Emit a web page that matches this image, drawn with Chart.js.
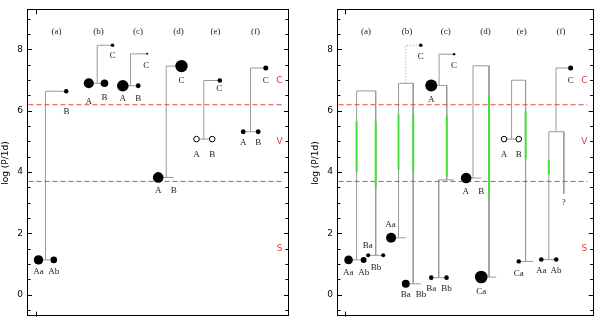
<!DOCTYPE html>
<html>
<head>
<meta charset="utf-8">
<script src="https://cdn.jsdelivr.net/npm/chart.js@4/dist/chart.umd.min.js"></script>
<style>
  body { margin: 0; background: #fff; }
  #wrap { position: relative; width: 600px; height: 326px; }
  .panel { position: absolute; top: 0; width: 300px; height: 326px; }
</style>
</head>
<body>
<div id="wrap">
  <div class="panel" style="left:0"><canvas id="left"></canvas></div>
  <div class="panel" style="left:300px"><canvas id="right"></canvas></div>
</div>
<script>
// ---- shared ----
var yMin = -0.72, yMax = 9.3;
var headerText = ['(a)', '(b)', '(c)', '(d)', '(e)', '(f)'];
var headerX = [2.9, 7.1, 11.05, 15.1, 18.8, 22.8];
var headerLogP = 8.58;
var regimeText = ['C', 'V', 'S'];
var regimeLogP = [6.99, 4.97, 1.49];
var regimeX = 25.2;
var boundaryLogP = [6.19, 3.69];

// ---- left panel ----
var leftStarX    = [1.1, 2.63, 3.87, 6.13, 7.7, 8.5, 9.53, 11.07, 11.97, 15.4, 13.07, 16.9, 18.47, 19.23, 21.57, 23.07, 23.83];
var leftStarLogP = [1.13, 1.13, 6.63, 6.89, 6.89, 8.13, 6.81, 6.81, 7.85, 7.45, 3.82, 5.07, 5.07, 6.98, 5.31, 5.31, 7.39];
var leftStarSize = [4.7, 3.3, 2.3, 5, 3.8, 1.8, 5.8, 2.4, 1, 6.2, 5.3, 2.8, 2.8, 2.3, 2.4, 2.4, 2.5];
var leftStarOpen = [0, 0, 0, 0, 0, 0, 0, 0, 0, 0, 0, 1, 1, 0, 0, 0, 0];

var leftLabelText = ['Aa', 'Ab', 'B', 'A', 'B', 'C', 'A', 'B', 'C', 'C', 'A', 'B', 'A', 'B', 'C', 'A', 'B', 'C'];
var leftLabelX    = [1.1, 2.63, 3.9, 6.13, 7.7, 8.5, 9.53, 11.07, 11.87, 15.4, 13.07, 14.63, 16.9, 18.47, 19.17, 21.57, 23.07, 23.83];
var leftLabelLogP = [0.75, 0.75, 5.98, 6.30, 6.42, 7.80, 6.40, 6.40, 7.48, 6.99, 3.38, 3.38, 4.57, 4.57, 6.70, 4.97, 4.97, 6.99];

var leftLinks = [
  [[1.1, 1.13], [2.63, 1.13]], [[1.8, 1.13], [1.8, 6.63], [3.87, 6.63]],
  [[6.13, 6.89], [7.7, 6.89]], [[6.97, 6.89], [6.97, 8.13], [8.5, 8.13]],
  [[9.53, 6.81], [11.07, 6.81]], [[10.3, 6.81], [10.3, 7.85], [11.97, 7.85]],
  [[13.07, 3.82], [14.63, 3.82]], [[13.87, 3.82], [13.87, 7.45], [15.4, 7.45]],
  [[16.9, 5.07], [18.47, 5.07]], [[17.63, 5.07], [17.63, 6.98], [19.23, 6.98]],
  [[21.57, 5.31], [23.07, 5.31]], [[22.3, 5.31], [22.3, 7.39], [23.83, 7.39]]
];

// ---- right panel ----
var rightStarX    = [1.13, 2.67, 3.13, 4.67, 5.47, 6.97, 8.5, 9.57, 11.9, 9.57, 11.13, 13.13, 14.67, 17.0, 18.5, 18.5, 20.8, 22.33, 23.8];
var rightStarLogP = [1.13, 1.13, 1.28, 1.28, 1.85, 0.35, 8.13, 6.82, 7.84, 0.55, 0.55, 3.80, 0.57, 5.07, 5.07, 1.08, 1.14, 1.14, 7.39];
var rightStarSize = [4.3, 3, 2, 2, 5, 4, 1.8, 6, 1.2, 2.3, 2.3, 5.3, 6.3, 2.8, 2.8, 2.2, 2.3, 2.3, 2.5];
var rightStarOpen = [0, 0, 0, 0, 0, 0, 0, 0, 0, 0, 0, 0, 0, 1, 1, 0, 0, 0, 0];

var rightLabelText = ['Aa', 'Ab', 'Ba', 'Bb', 'Aa', 'Ba', 'Bb', 'C', 'A', 'C', 'Ba', 'Bb', 'A', 'B', 'Ca', 'A', 'B', 'Ca', 'Aa', 'Ab', 'C', '?'];
var rightLabelX    = [1.1, 2.67, 3.1, 3.93, 5.4, 6.97, 8.53, 8.5, 9.57, 11.9, 9.57, 11.13, 13.1, 14.67, 14.67, 17.0, 18.5, 18.5, 20.8, 22.3, 23.8, 23.1];
var rightLabelLogP = [0.72, 0.72, 1.58, 0.89, 2.29, -0.02, -0.02, 7.77, 6.37, 7.48, 0.18, 0.18, 3.34, 3.34, 0.08, 4.57, 4.57, 0.68, 0.77, 0.77, 6.99, 3.01];

var rightLinks = [
  [[1.13, 1.13], [2.67, 1.13]], [[3.13, 1.28], [4.67, 1.28]],
  [[1.95, 1.13], [1.95, 6.64], [3.9, 6.64], [3.9, 1.28]],
  [[5.47, 1.85], [6.97, 1.85]], [[6.97, 0.35], [8.53, 0.35]],
  [[6.23, 1.85], [6.23, 6.89], [7.73, 6.89], [7.73, 0.35]],
  [[9.57, 6.82], [11.17, 6.82]], [[10.37, 6.82], [10.37, 7.84], [11.9, 7.84]],
  [[11.15, 6.82], [11.15, 3.74]], [[10.33, 3.74], [11.87, 3.74]],
  [[9.57, 0.55], [11.13, 0.55]], [[10.33, 3.74], [10.33, 0.55]],
  [[13.13, 3.80], [14.67, 3.80]], [[14.67, 0.57], [16.2, 0.57]],
  [[13.83, 3.80], [13.83, 7.46], [15.47, 7.46], [15.47, 0.57]],
  [[17.0, 5.07], [18.5, 5.07]], [[18.5, 1.08], [20.0, 1.08]],
  [[17.77, 5.07], [17.77, 6.99], [19.2, 6.99], [19.2, 1.08]],
  [[20.8, 1.14], [22.33, 1.14]],
  [[21.57, 1.14], [21.57, 5.31], [23.1, 5.31], [23.1, 3.29]],
  [[22.3, 5.31], [22.3, 7.39], [23.8, 7.39]]
];
var rightDotted = [[[6.97, 6.89], [6.97, 8.13], [8.5, 8.13]]];

// green ranges: x, top, bottom
var greenX      = [1.95, 3.9, 6.23, 7.73, 11.15, 15.47, 19.2, 21.57];
var greenTop    = [5.64, 5.64, 5.88, 5.88, 5.85, 6.50, 5.99, 4.38];
var greenBottom = [4.0, 3.49, 4.07, 3.98, 3.86, 3.14, 4.41, 3.91];

function pts(path) {
  return path.map(function(p) { return {x: p[0], y: p[1]}; });
}

function makeChart(id, p) {
  // first dataset is drawn last (on top)
  var ds = [];
  ds.push({
    data: p.starX.map(function(x, i) { return {x: x, y: p.starLogP[i]}; }),
    pointRadius: p.starSize,
    pointBackgroundColor: p.starOpen.map(function(o) { return o ? '#fff' : '#000'; }),
    pointBorderColor: '#000',
    pointBorderWidth: p.starOpen.map(function(o) { return o ? 1 : 0; }),
    showLine: false
  });
  (p.greenX || []).forEach(function(x, i) {
    ds.push({data: [{x: x, y: p.greenTop[i]}, {x: x, y: p.greenBottom[i]}],
      showLine: true, borderColor: 'rgb(70,225,60)', borderWidth: 2, pointRadius: 0});
  });
  boundaryLogP.forEach(function(v) {
    ds.push({data: [{x: 0.1, y: v}, {x: 25.5, y: v}], showLine: true,
      borderColor: 'rgb(225,70,70)', borderWidth: 1, borderDash: [5, 3], pointRadius: 0});
  });
  p.links.forEach(function(l) {
    ds.push({data: pts(l), showLine: true, borderColor: '#9a9a9a', borderWidth: 1, pointRadius: 0});
  });
  (p.dotted || []).forEach(function(l) {
    ds.push({data: pts(l), showLine: true, borderColor: '#9a9a9a', borderWidth: 1, borderDash: [1, 2], pointRadius: 0});
  });

  var decor = {
    id: 'decor',
    afterDatasetsDraw: function(chart) {
      var ctx = chart.ctx, xs = chart.scales.x, ys = chart.scales.y, a = chart.chartArea;
      ctx.save();
      ctx.textAlign = 'center';
      ctx.textBaseline = 'middle';
      ctx.fillStyle = '#222';
      ctx.font = '9px "Liberation Serif"';
      headerText.forEach(function(t, i) {
        ctx.fillText(t, xs.getPixelForValue(headerX[i]), ys.getPixelForValue(headerLogP));
      });
      p.labelText.forEach(function(t, i) {
        ctx.fillText(t, xs.getPixelForValue(p.labelX[i]), ys.getPixelForValue(p.labelLogP[i]));
      });
      ctx.fillStyle = 'rgb(225,60,60)';
      ctx.font = '9px "DejaVu Sans"';
      regimeText.forEach(function(t, i) {
        ctx.fillText(t, xs.getPixelForValue(regimeX), ys.getPixelForValue(regimeLogP[i]));
      });
      // frame
      ctx.strokeStyle = '#000';
      ctx.lineWidth = 1;
      ctx.strokeRect(Math.round(a.left) + 0.5, Math.round(a.top) + 0.5,
        Math.round(a.right - a.left) - 1, Math.round(a.bottom - a.top) - 1);
      // inward ticks
      ctx.beginPath();
      for (var k = -1; k <= 18; k++) {
        var v = k * 0.5;
        var py = Math.round(ys.getPixelForValue(v)) + 0.5;
        var len = (k % 4 === 0) ? 5 : 3.5;
        ctx.moveTo(a.left, py); ctx.lineTo(a.left + len, py);
        ctx.moveTo(a.right, py); ctx.lineTo(a.right - len, py);
      }
      var px = Math.round(xs.getPixelForValue(0.8)) + 0.5;
      ctx.moveTo(px, a.bottom); ctx.lineTo(px, a.bottom - 5);
      ctx.moveTo(px, a.top); ctx.lineTo(px, a.top + 5);
      ctx.stroke();
      ctx.restore();
    }
  };

  return new Chart(document.getElementById(id), {
    type: 'scatter',
    data: {datasets: ds},
    options: {
      responsive: true,
      maintainAspectRatio: false,
      animation: false,
      events: [],
      layout: {padding: {top: 2, bottom: 2, left: 0, right: p.padRight}},
      plugins: {legend: {display: false}, tooltip: {enabled: false}},
      scales: {
        // half-unit shift keeps the 1px vertical links on pixel centres
        x: {type: 'linear', min: -0.05, max: 26.15, display: false},
        y: {
          type: 'linear', min: yMin, max: yMax,
          afterFit: function(s) { s.width = p.axisWidth; },
          grid: {display: false, drawTicks: false},
          border: {display: false},
          ticks: {
            stepSize: 0.5, autoSkip: false, padding: 4, color: '#000',
            font: {family: 'DejaVu Sans', size: 9},
            callback: function(v) { return (v >= 0 && Math.abs(v % 2) < 1e-9) ? String(v) : ''; }
          },
          title: {display: true, text: 'log (P/1d)', color: '#000',
            font: {family: 'DejaVu Sans', size: 9}, padding: {top: p.titlePad, bottom: 0}}
        }
      }
    },
    plugins: [decor]
  });
}

makeChart('left', {
  starX: leftStarX, starLogP: leftStarLogP, starSize: leftStarSize, starOpen: leftStarOpen,
  labelText: leftLabelText, labelX: leftLabelX, labelLogP: leftLabelLogP,
  links: leftLinks, axisWidth: 27, padRight: 11, titlePad: 0
});
makeChart('right', {
  starX: rightStarX, starLogP: rightStarLogP, starSize: rightStarSize, starOpen: rightStarOpen,
  labelText: rightLabelText, labelX: rightLabelX, labelLogP: rightLabelLogP,
  links: rightLinks, dotted: rightDotted,
  greenX: greenX, greenTop: greenTop, greenBottom: greenBottom,
  axisWidth: 37, padRight: 1, titlePad: 10
});
</script>
</body>
</html>
